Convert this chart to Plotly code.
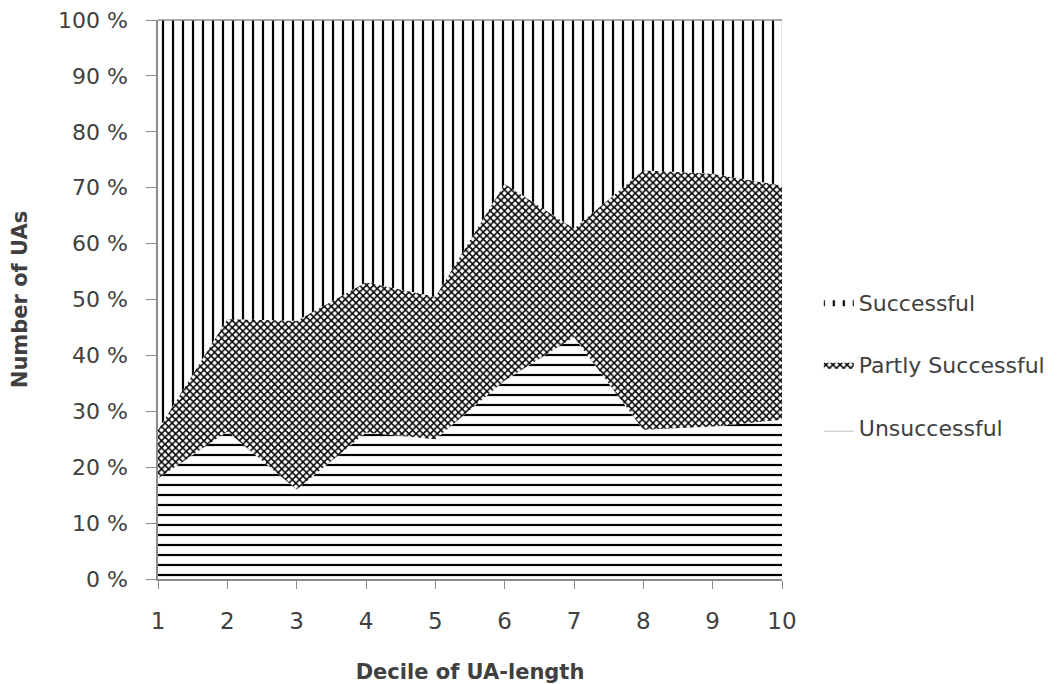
import plotly.graph_objects as go

deciles = [1, 2, 3, 4, 5, 6, 7, 8, 9, 10]
unsuccessful = [18.0, 26.4, 16.0, 26.2, 25.0, 35.5, 43.3, 26.7, 27.3, 28.5]
partly_successful = [8.7, 20.1, 30.2, 26.9, 25.5, 35.2, 19.4, 46.4, 45.2, 41.9]
successful = [73.3, 53.5, 53.8, 46.9, 49.5, 29.3, 37.3, 26.9, 27.5, 29.6]
y_ticks = [0, 10, 20, 30, 40, 50, 60, 70, 80, 90, 100]
y_tick_labels = [f"{v} %" for v in y_ticks]

FONT = "DejaVu Sans"
TXT = "#404040"
AX = "#8c8c8c"

fig = go.Figure()
fig.add_trace(go.Scatter(
    x=deciles, y=unsuccessful, name="Unsuccessful", stackgroup="one",
    mode="lines", line=dict(width=0, color="black"), legendgroup="u", legendrank=3,
    fillcolor="white",
    fillpattern=dict(shape="-", fgcolor="black", bgcolor="white", fgopacity=1,
                     size=10, solidity=0.22),
))
fig.add_trace(go.Scatter(
    x=deciles, y=partly_successful, name="Partly Successful", stackgroup="one",
    mode="lines", line=dict(width=0, color="black"), legendgroup="p", legendrank=2,
    fillcolor="white",
    fillpattern=dict(shape="x", fgcolor="black", bgcolor="white", fgopacity=1,
                     size=5, solidity=0.5),
))
fig.add_trace(go.Scatter(
    x=deciles, y=successful, name="Successful", stackgroup="one",
    mode="lines", line=dict(width=0, color="black"), legendgroup="s", legendrank=1,
    fillcolor="white",
    fillpattern=dict(shape="|", fgcolor="black", bgcolor="white", fgopacity=1,
                     size=10, solidity=0.22),
))

fig.update_layout(
    width=1059, height=684,
    margin=dict(l=150, r=285, t=12, b=113),
    paper_bgcolor="white", plot_bgcolor="white",
    font=dict(family=FONT, color=TXT, size=22),
    showlegend=True,
    legend=dict(
        x=1.059, y=0.5325, xanchor="left", yanchor="top",
        traceorder="grouped", tracegroupgap=31,
        font=dict(family=FONT, size=22, color=TXT),
        itemwidth=30, bgcolor="rgba(0,0,0,0)",
    ),
    xaxis=dict(
        range=[1, 10], tickmode="array", tickvals=deciles, automargin=False,
        ticks="outside", ticklen=8, tickcolor=AX, showgrid=False, zeroline=False,
        showline=True, linecolor=AX, linewidth=1.5,
        tickfont=dict(family=FONT, size=23, color=TXT), ticklabelstandoff=13,
        ticklabeloverflow="allow",
        title=dict(text="<b>Decile of UA-length</b>",
                   font=dict(family=FONT, size=21, color=TXT), standoff=31),
    ),
    yaxis=dict(
        range=[0, 100], tickmode="array", tickvals=y_ticks, ticktext=y_tick_labels,
        automargin=False,
        ticks="outside", ticklen=10, tickcolor=AX, showgrid=False, zeroline=False,
        showline=True, linecolor=AX, linewidth=1.5,
        tickfont=dict(family=FONT, size=22, color=TXT), ticklabelstandoff=14,
        ticklabeloverflow="allow",
        title=dict(text="<b>Number of UAs</b>",
                   font=dict(family=FONT, size=21, color=TXT), standoff=34),
    ),
    shapes=[dict(type="line", xref="paper", yref="paper", x0=0, x1=1, y0=1, y1=1,
                 line=dict(color=AX, width=1.5))],
)

fig.write_html("out.html")
